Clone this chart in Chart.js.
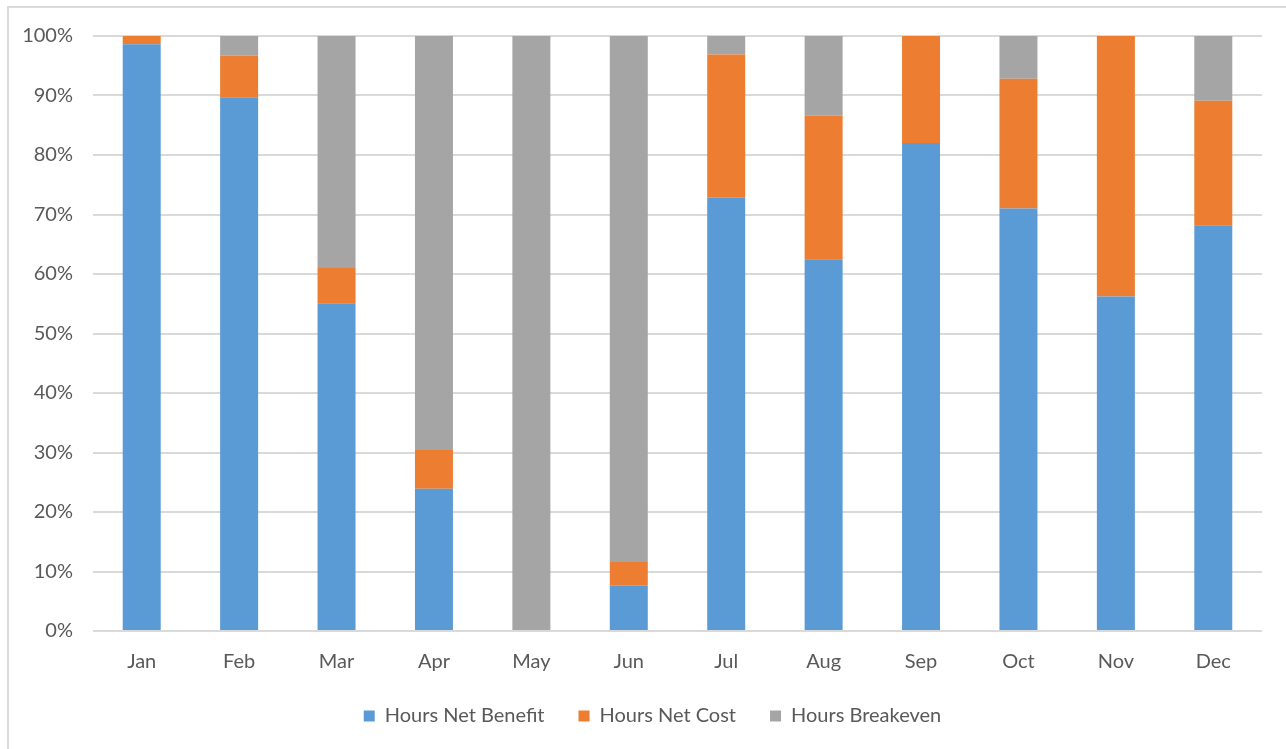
<!DOCTYPE html>
<html>
<head>
<meta charset="utf-8">
<script src="https://cdn.jsdelivr.net/npm/chart.js@4/dist/chart.umd.min.js"></script>
<style>
  html, body { margin: 0; padding: 0; background: #ffffff; overflow: hidden; }
  #wrap { position: relative; width: 1286px; height: 749px; }
  #frame { position: absolute; left: 7px; top: 6px; width: 1300px; height: 800px;
           border-top: 2px solid #d9d9d9; border-left: 2px solid #d9d9d9; box-sizing: border-box; }
  canvas { position: absolute; left: 0; top: 0; }
</style>
</head>
<body>
<div id="wrap">
  <div id="frame"></div>
  <canvas id="chart" width="1286" height="749"></canvas>
</div>
<script>
// Monthly share of hours by outcome (percent of month)
const months = ['Jan', 'Feb', 'Mar', 'Apr', 'May', 'Jun', 'Jul', 'Aug', 'Sep', 'Oct', 'Nov', 'Dec'];
const hoursNetBenefit = [98.6, 89.7, 55.1, 23.9, 0, 7.6, 72.8, 62.5, 82.0, 71.0, 56.2, 68.2];
const hoursNetCost    = [1.4, 7.0, 5.9, 6.5, 0, 4.0, 24.1, 24.1, 18.0, 21.8, 43.8, 20.9];
const hoursBreakeven  = [0, 3.3, 39.0, 69.6, 100, 88.4, 3.1, 13.4, 0, 7.2, 0, 10.9];
const seriesNames = ['Hours Net Benefit', 'Hours Net Cost', 'Hours Breakeven'];
const seriesColors = ['#5b9bd5', '#ed7d31', '#a5a5a5'];

const textColor = '#595959';
const fontFamily = 'Lato, "Open Sans", sans-serif';

const series = [hoursNetBenefit, hoursNetCost, hoursBreakeven];

// Centre the legend under the plot area rather than the whole canvas
const legendShift = {
  id: 'legendShift',
  afterLayout(chart) {
    const lg = chart.legend;
    if (!lg) return;
    const dx = (chart.chartArea.left + chart.chartArea.right) / 2 - (lg.left + lg.right) / 2 - 25;
    lg.left += dx;
    lg.right += dx;
  }
};

new Chart(document.getElementById('chart'), {
  type: 'bar',
  data: {
    labels: months,
    datasets: series.map((values, i) => ({
      label: seriesNames[i],
      data: values,
      backgroundColor: seriesColors[i],
      borderWidth: 0,
      categoryPercentage: 1.0,
      barPercentage: 0.39
    }))
  },
  plugins: [legendShift],
  options: {
    responsive: false,
    animation: false,
    devicePixelRatio: 1,
    layout: { padding: { left: 0, right: 24, top: 36, bottom: 13 } },
    plugins: {
      tooltip: { enabled: false },
      legend: {
        position: 'bottom',
        labels: {
          boxWidth: 11,
          boxHeight: 11,
          padding: 34,
          color: textColor,
          font: { family: fontFamily, size: 20 }
        }
      }
    },
    scales: {
      x: {
        stacked: true,
        grid: { display: false, drawTicks: false },
        border: { display: false },
        ticks: {
          padding: 19,
          color: textColor,
          font: { family: fontFamily, size: 20 }
        },
        afterFit(scale) { scale.height = 41; }
      },
      y: {
        stacked: true,
        min: 0,
        max: 100,
        grid: { color: '#d9d9d9', lineWidth: 2, drawTicks: false },
        border: { display: false },
        ticks: {
          stepSize: 10,
          padding: 20,
          color: textColor,
          font: { family: fontFamily, size: 20 },
          callback: (v) => v + '%'
        },
        afterFit(scale) { scale.width = 93; }
      }
    }
  }
});
</script>
</body>
</html>
